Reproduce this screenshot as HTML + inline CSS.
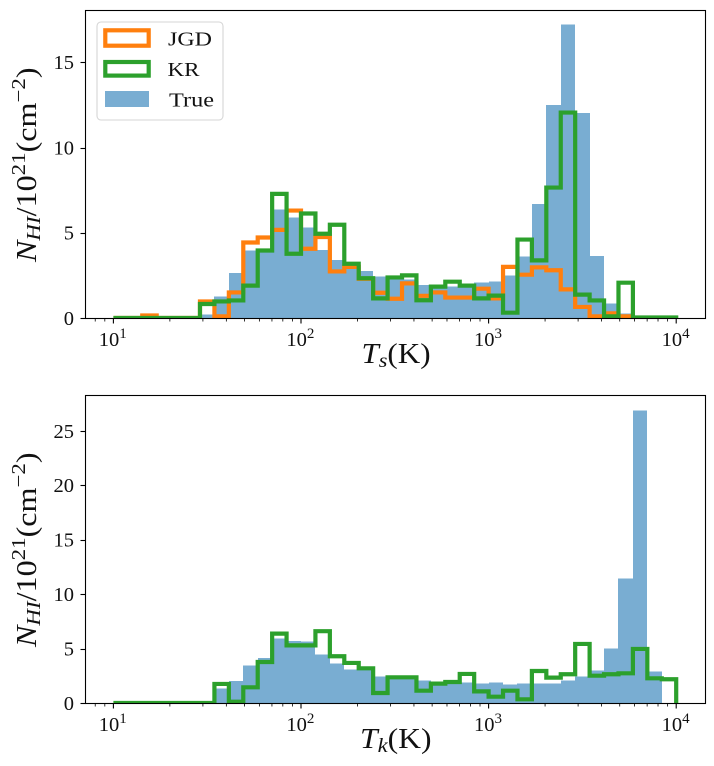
<!DOCTYPE html>
<html>
<head>
<meta charset="utf-8">
<style>
html,body{margin:0;padding:0;background:#fff;}
svg{display:block;font-family:"Liberation Serif",serif;}
text{fill:#111;}
</style>
</head>
<body>
<svg id="figure" width="714" height="766" viewBox="0 0 714 766" xmlns="http://www.w3.org/2000/svg">
<defs>
<clipPath id="clip-top"><rect x="85.5" y="10.5" width="620" height="308"/></clipPath>
<clipPath id="clip-bottom"><rect x="85.5" y="395.5" width="620" height="308"/></clipPath>
</defs>
<g id="panel-top"></g>
<g id="panel-bottom"></g>

<text transform="translate(361.5,363) scale(1.11,1)" font-size="28"><tspan font-style="italic">T</tspan><tspan font-style="italic" font-size="20" dy="4">s</tspan><tspan dy="-4">(K)</tspan></text>
<text transform="translate(360,748) scale(1.13,1)" font-size="28"><tspan font-style="italic">T</tspan><tspan font-style="italic" font-size="20" dy="4">k</tspan><tspan dy="-4">(K)</tspan></text>

<text transform="translate(36,262) rotate(-90) scale(1.147,1)" font-size="28"><tspan font-style="italic">N</tspan><tspan font-style="italic" font-size="20" dy="4">HI</tspan><tspan dy="-4">/10</tspan><tspan font-size="20" dy="-11">21</tspan><tspan dy="11">(cm</tspan><tspan font-size="20" dy="-11">−2</tspan><tspan dy="11">)</tspan></text>
<text transform="translate(36,647) rotate(-90) scale(1.147,1)" font-size="28"><tspan font-style="italic">N</tspan><tspan font-style="italic" font-size="20" dy="4">HI</tspan><tspan dy="-4">/10</tspan><tspan font-size="20" dy="-11">21</tspan><tspan dy="11">(cm</tspan><tspan font-size="20" dy="-11">−2</tspan><tspan dy="11">)</tspan></text>

<g>
<rect x="97" y="22" width="126" height="98" rx="4" fill="#fff" fill-opacity="0.8" stroke="#d6d6d6" stroke-width="1.1"/>
<rect x="105.3" y="30.3" width="43.4" height="15.4" fill="none" stroke="#ff7f0e" stroke-width="4.2"/>
<rect x="105.3" y="62" width="43.4" height="13.6" fill="none" stroke="#2ca02c" stroke-width="4.2"/>
<rect x="105" y="91" width="44" height="16" fill="#1f77b4" fill-opacity="0.6"/>
<text x="168" y="45.5" font-size="20.5" textLength="44" lengthAdjust="spacingAndGlyphs">JGD</text>
<text x="167.5" y="76" font-size="20.5" textLength="32" lengthAdjust="spacingAndGlyphs">KR</text>
<text x="169" y="106.7" font-size="20.5" textLength="45" lengthAdjust="spacingAndGlyphs">True</text>
</g>
</svg>
<script>
var binCount = 39;
var xDecades = [1, 2, 3, 4];
var xMinorFactors = [2, 3, 4, 5, 6, 7, 8, 9];

var topYTicks = [0, 5, 10, 15];
var bottomYTicks = [0, 5, 10, 15, 20, 25];

var topTrue = [0,0,0,0,0,0,0.2,1.25,2.65,3.95,4.0,6.35,5.9,5.3,4.0,3.4,2.9,2.77,2.42,2.3,2.25,1.95,1.72,1.85,1.85,2.07,2.13,2.48,3.6,6.7,12.5,17.2,12.03,3.65,0.84,0.25,0,0,0];
var topJGD = [0,0,0.15,0,0,0,0.97,0.1,1.5,4.43,4.72,5.17,6.3,4.06,4.75,2.73,3.0,2.3,1.48,1.13,2.03,1.3,1.5,1.2,1.2,1.72,1.15,3.0,2.54,2.97,2.8,1.68,0.65,0.1,0.27,0.1,0,0,0];
var topKR = [0,0,0,0,0,0,0.82,0.97,1.03,1.9,3.96,7.28,3.77,6.13,4.94,5.47,3.18,2.33,1.15,2.38,2.5,1.04,1.84,2.13,1.9,1.15,1.31,0.31,4.6,3.38,7.65,12.05,1.37,1.03,0.1,2.07,0.03,0.03,0.03];

var bottomTrue = [0,0,0,0,0,0,0,1.35,2.0,3.43,4.14,5.92,5.7,5.64,4.45,3.65,3.07,3.07,2.42,2.3,2.3,2.05,1.7,1.75,1.9,1.78,1.87,1.69,1.78,1.78,1.78,2.05,2.42,2.97,5.0,11.43,26.9,2.88,0];
var bottomKR = [0,0,0,0,0,0,0,1.75,0.12,1.44,3.77,6.38,5.3,5.3,6.6,4.3,3.68,3.19,0.92,2.36,2.36,1.13,1.78,1.93,2.67,1.07,0.58,1.13,0.34,2.94,2.33,2.64,5.43,2.51,2.64,2.73,4.97,2.27,2.18];

var SVGNS = 'http://www.w3.org/2000/svg';

function make(tag, attrs, parent) {
  var el = document.createElementNS(SVGNS, tag);
  for (var k in attrs) el.setAttribute(k, attrs[k]);
  parent.appendChild(el);
  return el;
}

function xScale(v) {
  return 113.4 + 187.6 * (Math.log10(v) - 1);
}

function binEdge(i) {
  return Math.pow(10, 1 + 3 * i / binCount);
}

function stepPath(values, yScale) {
  var y0 = yScale(0);
  var d = 'M' + xScale(binEdge(0)).toFixed(2) + ' ' + y0.toFixed(2);
  for (var i = 0; i < values.length; i++) {
    var y = yScale(values[i]).toFixed(2);
    d += 'L' + xScale(binEdge(i)).toFixed(2) + ' ' + y;
    d += 'L' + xScale(binEdge(i + 1)).toFixed(2) + ' ' + y;
  }
  d += 'L' + xScale(binEdge(values.length)).toFixed(2) + ' ' + y0.toFixed(2);
  return d;
}

function drawPanel(parent, clipId, top, bottom, pxPerUnit, yTicks, trueValues, jgdValues, krValues) {
  function yScale(v) {
    return bottom - v * pxPerUnit;
  }

  var plot = make('g', {'clip-path': 'url(#' + clipId + ')'}, parent);
  
  

  trueValues.forEach(function (v, i) {
    if (v <= 0) return;
    var x1 = Math.round(xScale(binEdge(i)));
    var x2 = Math.round(xScale(binEdge(i + 1)));
    var bar = make('rect', {
      x: x1,
      y: yScale(v).toFixed(2),
      width: x2 - x1,
      height: (bottom - yScale(v)).toFixed(2),
      fill: '#79add2',
      'shape-rendering': 'crispEdges'
    }, plot);
    
    
  });

  if (jgdValues) {
    var jgd = make('path', {
      d: stepPath(jgdValues, yScale),
      fill: 'none',
      stroke: '#ff7f0e',
      'stroke-width': 4.2,
      'stroke-linejoin': 'miter'
    }, plot);
    
    
  }

  var kr = make('path', {
    d: stepPath(krValues, yScale),
    fill: 'none',
    stroke: '#2ca02c',
    'stroke-width': 4.2,
    'stroke-linejoin': 'miter'
  }, plot);
  
  

  var frame = make('rect', {
    x: 85.5,
    y: top + 0.5,
    width: 620,
    height: bottom - top,
    fill: 'none',
    stroke: '#000',
    'stroke-width': 1.1
  }, parent);
  
  

  yTicks.forEach(function (v) {
    var y = Math.round(yScale(v)) + 0.5;
    var tick = make('line', {x1: 80.5, x2: 85.5, y1: y, y2: y, stroke: '#000', 'stroke-width': 1.1}, parent);
    
    
    var label = make('text', {x: 74, y: (yScale(v) + 6.8).toFixed(1), 'font-size': 20.5, 'text-anchor': 'end'}, parent);
    label.textContent = String(v);
    
    
  });

  var axisY = bottom + 0.5;
  xDecades.forEach(function (d) {
    var x = xScale(Math.pow(10, d));
    var tick = make('line', {x1: x, x2: x, y1: axisY, y2: axisY + 5, stroke: '#000', 'stroke-width': 1.1}, parent);
    
    
    var label = make('text', {x: x - 14.6, y: bottom + 28, 'font-size': 20.5}, parent);
    
    
    var base = make('tspan', {}, label);
    base.textContent = '10';
    var exp = make('tspan', {'font-size': 15, dy: -8}, label);
    exp.textContent = String(d);
  });

  [0, 1, 2, 3].forEach(function (d) {
    xMinorFactors.forEach(function (f) {
      var v = f * Math.pow(10, d);
      var x = xScale(v);
      if (x <= 85.5 || x >= 705.5) return;
      var minor = make('line', {x1: x, x2: x, y1: axisY, y2: axisY + 3, stroke: '#000', 'stroke-width': 0.8}, parent);
      
      
    });
  });
}

drawPanel(document.getElementById('panel-top'), 'clip-top', 10, 318, 17.05, topYTicks, topTrue, topJGD, topKR);
drawPanel(document.getElementById('panel-bottom'), 'clip-bottom', 395, 703, 10.88, bottomYTicks, bottomTrue, null, bottomKR);
</script>
</body>
</html>
